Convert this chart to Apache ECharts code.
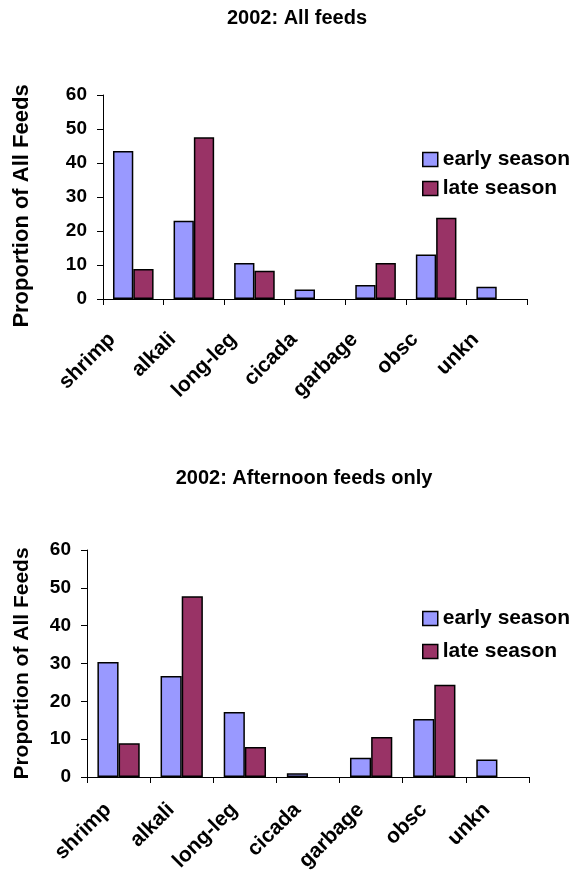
<!DOCTYPE html>
<html>
<head>
<meta charset="utf-8">
<script src="https://cdn.jsdelivr.net/npm/echarts@6/dist/echarts.min.js"></script>
<style>
  html, body { margin: 0; padding: 0; background: #fff; }
  #main { width: 585px; height: 870px; }
</style>
</head>
<body>
<div id="main"></div>
<script>
var categories = ['shrimp', 'alkali', 'long-leg', 'cicada', 'garbage', 'obsc', 'unkn'];
var yTicks = [0, 10, 20, 30, 40, 50, 60];
var seriesNames = ['early season', 'late season'];

// 2002: All feeds
var allEarly = [43.5, 23.0, 10.6, 2.8, 4.1, 13.1, 3.6];
var allLate = [8.8, 47.6, 8.3, null, 10.6, 23.9, null];

// 2002: Afternoon feeds only
var pmEarly = [30.4, 26.7, 17.2, 1.0, 5.1, 15.3, 4.6];
var pmLate = [8.9, 47.8, 7.9, null, 10.6, 24.4, null];

var font = 'Liberation Sans, Arial, sans-serif';
var earlyColor = '#9999ff', lateColor = '#993366';
var myChart = echarts.init(document.getElementById('main'));

var xAxisFor = function (idx, margin, pad) {
    return {
        type: 'category',
        gridIndex: idx,
        data: categories,
        axisLine: { lineStyle: { color: '#000', width: 1 } },
        axisTick: { show: true, length: 6, lineStyle: { color: '#000' } },
        axisLabel: {
            rotate: 45,
            color: '#000',
            fontWeight: 'bold',
            fontSize: 21,
            fontFamily: font,
            margin: margin,
            padding: [0, pad, 0, 0],
            interval: 0
        }
    };
};

var yAxisFor = function (idx, gap, nameSize, namePad) {
    return {
        type: 'value',
        gridIndex: idx,
        min: yTicks[0],
        max: yTicks[yTicks.length - 1],
        interval: 10,
        name: 'Proportion of All Feeds',
        nameLocation: 'middle',
        nameGap: gap,
        nameTextStyle: { color: '#000', fontWeight: 'bold', fontSize: nameSize, fontFamily: font, padding: [0, namePad, 0, 0] },
        splitLine: { show: false },
        axisLine: { show: true, lineStyle: { color: '#000', width: 1 } },
        axisTick: { show: true, length: 6, lineStyle: { color: '#000' } },
        axisLabel: { color: '#000', fontWeight: 'bold', fontSize: 19, fontFamily: font, margin: 16 }
    };
};

var barSeries = function (name, data, color, idx) {
    return {
        name: name,
        type: 'bar',
        xAxisIndex: idx,
        yAxisIndex: idx,
        data: data,
        barGap: '0%',
        barCategoryGap: '33%',
        itemStyle: { color: color, borderColor: '#000', borderWidth: 1.5 }
    };
};

var legendFor = function (top, gap) {
    return {
        orient: 'vertical',
        left: 422,
        top: top,
        padding: 0,
        icon: 'rect',
        itemWidth: 15,
        itemHeight: 14,
        itemGap: gap,
        data: [
            { name: seriesNames[0], itemStyle: { color: earlyColor, borderColor: '#000', borderWidth: 1.5 } },
            { name: seriesNames[1], itemStyle: { color: lateColor, borderColor: '#000', borderWidth: 1.5 } }
        ],
        textStyle: { color: '#000', fontWeight: 'bold', fontSize: 21, lineHeight: 21, fontFamily: font },
        selectedMode: false
    };
};

var titleFor = function (text, x, y) {
    return {
        text: text, left: x, top: y, textAlign: 'center', padding: 0,
        textStyle: { fontSize: 20, fontWeight: 'bold', color: '#000', fontFamily: font }
    };
};

option = {
    animation: false,
    backgroundColor: '#fff',
    title: [
        titleFor('2002: All feeds', 297, 8),
        titleFor('2002: Afternoon feeds only', 304, 468)
    ],
    legend: [legendFor(149, 8), legendFor(608, 12)],
    grid: [
        { left: 103, top: 95, width: 424, height: 204, outerBoundsMode: 'none' },
        { left: 87, top: 550, width: 442, height: 227, outerBoundsMode: 'none' }
    ],
    xAxis: [xAxisFor(0, 16, 30), xAxisFor(1, 19, 15)],
    yAxis: [yAxisFor(0, 70, 22, 18), yAxisFor(1, 54, 21, 0)],
    series: [
        barSeries(seriesNames[0], allEarly, earlyColor, 0),
        barSeries(seriesNames[1], allLate, lateColor, 0),
        barSeries(seriesNames[0], pmEarly, earlyColor, 1),
        barSeries(seriesNames[1], pmLate, lateColor, 1)
    ]
};
myChart.setOption(option);
</script>
</body>
</html>
